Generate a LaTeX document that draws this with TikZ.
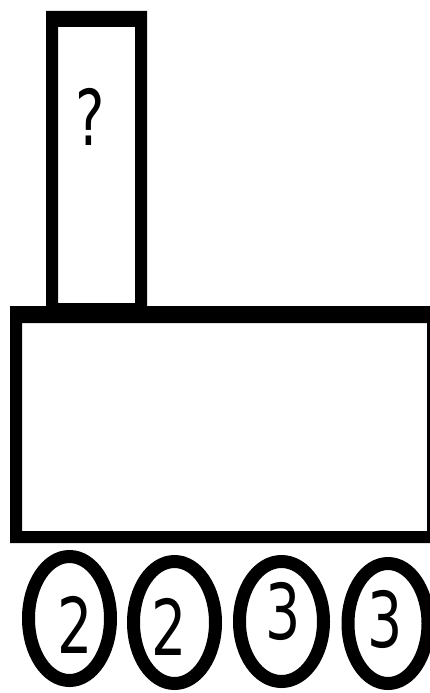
\documentclass[tikz,border=0pt]{standalone}
\usepackage{fontspec}
\setmainfont{DejaVu Sans}
\usetikzlibrary{shapes.geometric}
\tikzset{
  ring/.style={draw=black, line width=13pt, ellipse, inner sep=0pt, fill=white},
  digit/.style={inner sep=0pt, font=\fontsize{77}{80}\selectfont, xscale=0.72, transform shape},
  frame/.style={fill=black, even odd rule}
}
\begin{document}
\begin{tikzpicture}[x=1pt,y=-1pt]
\useasboundingbox (0,0) rectangle (430,693);
\fill[white] (0,0) rectangle (430,693);
% tall box
\fill[frame] (46,11) rectangle (147,306) (58,27) rectangle (135,303);
\node[digit] (q) at (90.5,116.5) {?};
% big box
\fill[frame] (10,306) rectangle (440,543) (22,323) rectangle (427,531);
% rings
\node[ring, minimum width=82pt, minimum height=124pt] (e1) at (69.5,618.5) {};
\node[ring, minimum width=82pt, minimum height=122pt] (e2) at (174.5,622.5) {};
\node[ring, minimum width=84pt, minimum height=120pt] (e3) at (281.5,621.5) {};
\node[ring, minimum width=80pt, minimum height=120pt] (e4) at (388,623.5) {};
\node[digit] (d1) at (75,625) {2};
\node[digit] (d2) at (169.5,626.5) {2};
\node[digit] (d3) at (283.5,611.5) {3};
\node[digit] (d4) at (385,619.5) {3};
\end{tikzpicture}
\end{document}
